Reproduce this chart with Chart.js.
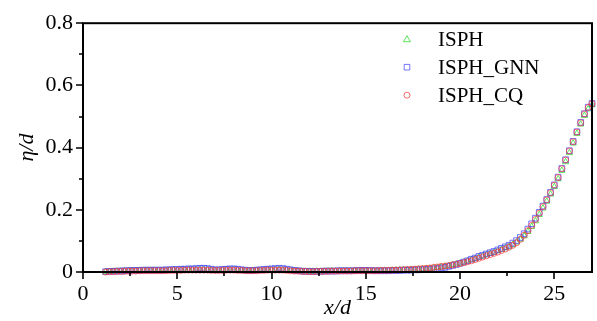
<!DOCTYPE html>
<html>
<head>
<meta charset="utf-8">
<script src="https://cdn.jsdelivr.net/npm/chart.js@4.4.1/dist/chart.umd.min.js"></script>
<style>
  html, body { margin: 0; padding: 0; background: #fff; }
  #wrap { width: 597px; height: 321px; }
</style>
</head>
<body>
<div id="wrap"><canvas id="c" width="597" height="321"></canvas></div>
<script>
// x/d positions shared by the three runs
const xd = [
  1.2, 1.4, 1.6, 1.8, 2.0, 2.2, 2.4, 2.6, 2.8, 3.0,
  3.2, 3.4, 3.6, 3.8, 4.0, 4.2, 4.4, 4.6, 4.8, 5.0,
  5.2, 5.4, 5.6, 5.8, 6.0, 6.2, 6.4, 6.6, 6.8, 7.0,
  7.2, 7.4, 7.6, 7.8, 8.0, 8.2, 8.4, 8.6, 8.8, 9.0,
  9.2, 9.4, 9.6, 9.8, 10.0, 10.2, 10.4, 10.6, 10.8, 11.0,
  11.2, 11.4, 11.6, 11.8, 12.0, 12.2, 12.4, 12.6, 12.8, 13.0,
  13.2, 13.4, 13.6, 13.8, 14.0, 14.2, 14.4, 14.6, 14.8, 15.0,
  15.2, 15.4, 15.6, 15.8, 16.0, 16.2, 16.4, 16.6, 16.8, 17.0,
  17.2, 17.4, 17.6, 17.8, 18.0, 18.2, 18.4, 18.6, 18.8, 19.0,
  19.2, 19.4, 19.6, 19.8, 20.0, 20.2, 20.4, 20.6, 20.8, 21.0,
  21.2, 21.4, 21.6, 21.8, 22.0, 22.2, 22.4, 22.6, 22.8, 23.0,
  23.2, 23.4, 23.6, 23.8, 24.0, 24.2, 24.4, 24.6, 24.8, 25.0,
  25.2, 25.4, 25.6, 25.8, 26.0, 26.2, 26.4, 26.6, 26.8, 27.0
];

// eta/d per run
const isph = [
  .001, .001, .002, .002, .003, .003, .004, .004, .004, .005,
  .005, .005, .005, .005, .005, .005, .005, .006, .006, .006,
  .007, .007, .008, .008, .008, .008, .008, .007, .006, .005,
  .005, .006, .007, .007, .007, .006, .005, .004, .004, .004,
  .005, .005, .006, .007, .007, .008, .008, .007, .006, .005,
  .004, .003, .002, .002, .002, .002, .002, .002, .002, .003,
  .003, .003, .003, .004, .004, .004, .004, .004, .004, .004,
  .004, .004, .004, .004, .005, .005, .005, .006, .006, .007,
  .007, .008, .008, .009, .009, .010, .011, .013, .014, .016,
  .018, .020, .023, .025, .028, .031, .035, .039, .043, .047,
  .051, .055, .059, .063, .068, .072, .077, .082, .088, .096,
  .105, .116, .130, .146, .164, .184, .205, .227, .250, .274,
  .299, .326, .354, .383, .414, .445, .475, .503, .524, .537
];
const isphGnn = [
  .001, .002, .002, .003, .003, .004, .004, .005, .005, .005,
  .006, .006, .006, .006, .006, .006, .007, .007, .008, .008,
  .009, .009, .010, .010, .011, .012, .012, .011, .009, .007,
  .007, .008, .009, .010, .010, .009, .007, .006, .005, .005,
  .006, .007, .008, .009, .010, .011, .012, .011, .009, .007,
  .005, .004, .003, .002, .002, .002, .002, .002, .003, .003,
  .003, .003, .004, .004, .004, .004, .004, .005, .005, .005,
  .005, .004, .004, .004, .004, .004, .005, .005, .005, .006,
  .006, .006, .007, .007, .008, .008, .009, .010, .011, .013,
  .015, .018, .021, .024, .028, .032, .036, .041, .045, .050,
  .054, .058, .062, .066, .071, .076, .081, .086, .093, .101,
  .111, .123, .138, .155, .173, .192, .212, .233, .256, .280,
  .305, .333, .361, .390, .420, .451, .481, .509, .530, .542
];
const isphCq = [
  .000, .001, .001, .002, .002, .002, .003, .003, .003, .004,
  .004, .004, .004, .004, .004, .004, .004, .005, .005, .005,
  .005, .006, .006, .006, .006, .006, .006, .006, .005, .005,
  .005, .005, .006, .006, .006, .005, .005, .004, .004, .004,
  .004, .005, .005, .006, .006, .006, .006, .006, .005, .004,
  .003, .003, .002, .002, .001, .001, .002, .002, .002, .002,
  .003, .003, .003, .003, .003, .003, .004, .004, .004, .004,
  .004, .004, .004, .005, .005, .005, .006, .006, .007, .007,
  .008, .008, .009, .010, .011, .012, .013, .015, .016, .018,
  .019, .021, .023, .025, .027, .030, .033, .036, .040, .044,
  .048, .052, .056, .060, .064, .069, .074, .080, .086, .094,
  .105, .118, .133, .150, .169, .189, .210, .232, .255, .279,
  .304, .332, .360, .389, .419, .450, .480, .508, .529, .541
];

const seriesNames = ['ISPH', 'ISPH_GNN', 'ISPH_CQ'];
const seriesColors = ['rgba(40,220,40,0.75)', 'rgba(60,60,255,0.7)', 'rgba(255,60,60,0.75)'];
const seriesStyles = ['triangle', 'rect', 'circle'];
const seriesRadius = [3.6, 4.0, 3.0];

const xMajor = 5, yMajor = 0.2;
const serif = '"Liberation Serif", "Times New Roman", serif';

function toPoints(ys) {
  return xd.map((x, i) => ({ x: x, y: ys[i] }));
}

const allSeries = [isph, isphGnn, isphCq];
const datasets = allSeries.map((ys, i) => ({
  label: seriesNames[i],
  data: toPoints(ys),
  pointStyle: seriesStyles[i],
  pointRadius: seriesRadius[i],
  pointBorderWidth: 1,
  borderColor: seriesColors[i],
  backgroundColor: 'rgba(0,0,0,0)',
  showLine: false,
  clip: 6,
  order: [2, 1, 0][i]
}));

function isMultiple(v, step) {
  const r = v / step;
  return Math.abs(r - Math.round(r)) < 1e-6;
}

// frame, outward major/minor ticks and the legend
const framePlugin = {
  id: 'frame',
  afterDraw(chart) {
    const { ctx, chartArea: a } = chart;
    const xs = chart.scales.x, ys = chart.scales.y;
    ctx.save();
    ctx.strokeStyle = '#000';
    ctx.lineWidth = 2;
    ctx.strokeRect(a.left, a.top, a.right - a.left, a.bottom - a.top);
    ctx.lineWidth = 1.6;
    ctx.beginPath();
    xs.ticks.forEach(t => {
      const px = Math.round(xs.getPixelForValue(t.value));
      const len = isMultiple(t.value, xMajor) ? 7 : 4;
      ctx.moveTo(px, a.bottom);
      ctx.lineTo(px, a.bottom + len);
    });
    ys.ticks.forEach(t => {
      const py = Math.round(ys.getPixelForValue(t.value));
      const len = isMultiple(t.value, yMajor) ? 7 : 4;
      ctx.moveTo(a.left, py);
      ctx.lineTo(a.left - len, py);
    });
    ctx.stroke();

    // legend
    ctx.font = '21px ' + serif;
    ctx.textBaseline = 'middle';
    ctx.fillStyle = '#000';
    const mx = a.left + 324, tx = a.left + 355;
    seriesNames.forEach((name, i) => {
      const y = a.top + 16 + i * 28;
      ctx.strokeStyle = seriesColors[i];
      ctx.lineWidth = 1;
      ctx.beginPath();
      if (seriesStyles[i] === 'triangle') {
        ctx.moveTo(mx, y - 3.5);
        ctx.lineTo(mx + 3.5, y + 2.5);
        ctx.lineTo(mx - 3.5, y + 2.5);
        ctx.closePath();
      } else if (seriesStyles[i] === 'rect') {
        ctx.rect(mx - 2.8, y - 2.8, 5.6, 5.6);
      } else {
        ctx.arc(mx, y, 3, 0, Math.PI * 2);
      }
      ctx.stroke();
      ctx.fillText(name, tx, y + 1);
    });
    ctx.restore();
  }
};

new Chart(document.getElementById('c'), {
  type: 'scatter',
  data: { datasets: datasets },
  options: {
    responsive: false,
    animation: false,
    events: [],
    layout: { padding: { left: 0, right: 4, top: 19, bottom: 0 } },
    plugins: { legend: { display: false }, tooltip: { enabled: false } },
    scales: {
      x: {
        type: 'linear',
        min: 0,
        max: 27,
        border: { display: false },
        grid: { display: false, drawTicks: false },
        afterBuildTicks: s => { s.ticks = s.ticks.filter(t => isMultiple(t.value, 2.5)); },
        afterFit: s => { s.height = 49; },
        ticks: {
          stepSize: 2.5,
          autoSkip: false,
          maxRotation: 0,
          padding: 9,
          color: '#000',
          font: { family: serif, size: 22 },
          callback: v => isMultiple(v, xMajor) ? String(Math.round(v)) : ''
        },
        title: {
          display: true,
          text: 'x/d',
          color: '#000',
          padding: { top: 0, bottom: 0 },
          font: { family: serif, size: 22, style: 'italic' }
        }
      },
      y: {
        type: 'linear',
        min: 0,
        max: 0.8,
        border: { display: false },
        grid: { display: false, drawTicks: false },
        afterBuildTicks: s => { s.ticks = s.ticks.filter(t => isMultiple(t.value, 0.1)); },
        afterFit: s => { s.width = 83; },
        ticks: {
          stepSize: 0.1,
          autoSkip: false,
          padding: 10,
          color: '#000',
          font: { family: serif, size: 22 },
          callback: v => isMultiple(v, yMajor) ? (Math.abs(v) < 1e-9 ? '0' : v.toFixed(1)) : ''
        },
        title: {
          display: true,
          text: 'η/d',
          color: '#000',
          padding: { top: 14, bottom: 0 },
          font: { family: serif, size: 22, style: 'italic' }
        }
      }
    }
  },
  plugins: [framePlugin]
});
</script>
</body>
</html>
